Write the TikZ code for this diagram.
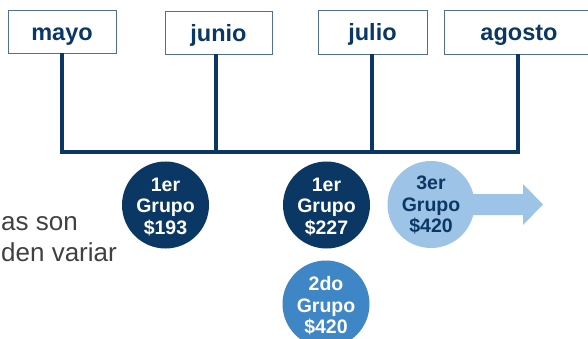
\documentclass[tikz,border=0pt]{standalone}
\usepackage{fontspec}
\setmainfont{Liberation Sans}
\definecolor{navy}{HTML}{0B3764}
\definecolor{boxline}{HTML}{4F6E9E}
\definecolor{midblue}{HTML}{3F86C6}
\definecolor{lightblue}{HTML}{9DC3E6}
\definecolor{greytext}{HTML}{404040}
\begin{document}
\begin{tikzpicture}[x=1pt,y=-1pt,
  month/.style={draw=boxline,line width=0.9pt,fill=white,inner sep=0pt,
    text height=18pt,text depth=0pt,
    font=\fontsize{23.5}{26}\selectfont\bfseries,text=navy},
  stem/.style={draw=navy,line width=3.6pt},
  grp/.style={circle,minimum size=87pt,inner sep=0pt},
  grptext/.style={inner sep=0pt,align=center,
    font=\fontsize{19.5}{21.5}\selectfont\bfseries},
  note/.style={anchor=base west,inner sep=0pt,text=greytext,
    font=\fontsize{26}{30}\selectfont}]
\useasboundingbox (0,0) rectangle (588,339);
% arrow behind 3er circle
\fill[lightblue] (430,194) -- (523,194) -- (523,184) -- (543,204.5) -- (523,225) -- (523,215) -- (430,215) -- cycle;
% month boxes
\node[month,minimum width=108pt,minimum height=43pt] (mayo) at (62,31.5) {mayo};
\node[month,minimum width=107pt,minimum height=43pt] (junio) at (218.5,32.5) {junio};
\node[month,minimum width=109pt,minimum height=44pt] (julio) at (372.5,32) {julio};
\node[month,minimum width=150pt,minimum height=44pt] (agosto) at (519,32) {agosto};
% timeline
\coordinate (c1) at (62,152);
\coordinate (c2) at (216,152);
\coordinate (c3) at (372,152);
\coordinate (c4) at (518,152);
\draw[stem] (mayo.south -| c1) -- (c1) -- (c4) -- (agosto.south -| c4);
\draw[stem] (junio.south -| c2) -- (c2);
\draw[stem] (julio.south -| c3) -- (c3);
% groups
\node[grp,fill=navy] (g1) at (165.5,205) {};
\node[grptext,text=white] (g1t) at (165.5,207) {1er\\Grupo\\\$193};
\node[grp,fill=navy] (g2) at (326.5,205) {};
\node[grptext,text=white] (g2t) at (326.5,207) {1er\\Grupo\\\$227};
\node[grp,fill=lightblue] (g3) at (431,204.5) {};
\node[grptext,text=navy] (g3t) at (431,205) {3er\\Grupo\\\$420};
\node[grp,fill=midblue] (g4) at (326,304) {};
\node[grptext,text=white] (g4t) at (326,306) {2do\\Grupo\\\$420};
% left text
\node[note] (t1) at (1,230) {as son};
\node[note] (t2) at (1,261) {den variar};
\end{tikzpicture}
\end{document}
